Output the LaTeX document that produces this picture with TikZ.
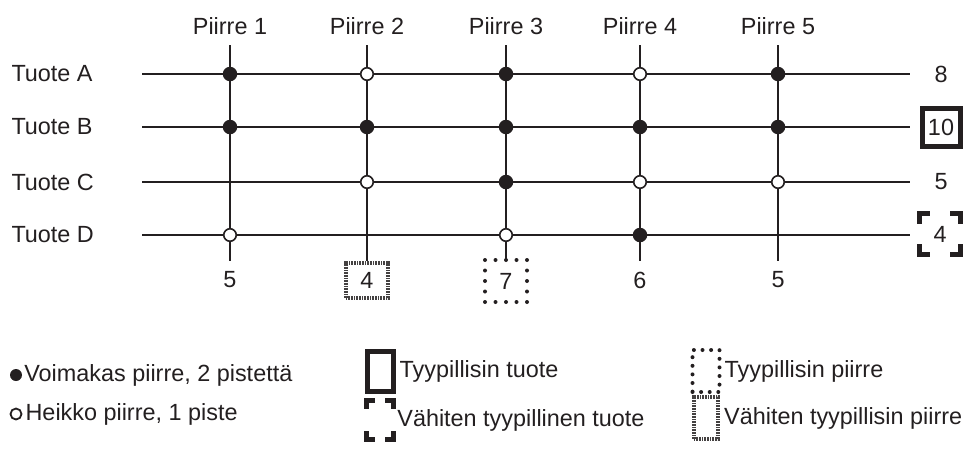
\documentclass[tikz,border=0pt]{standalone}
\usepackage{fontspec}
\setmainfont{Liberation Sans}
\usepackage{xcolor}
\usetikzlibrary{positioning}
\definecolor{ink}{HTML}{231F20}
\tikzset{
	every node/.style={font=\fontsize{23.4}{27}\selectfont, text=ink},
	gridline/.style={draw=ink, line width=2pt},
	strong/.style={circle, fill=ink, inner sep=0pt, minimum size=14.5pt}, % 2 points
	weak/.style={circle, draw=ink, fill=white, line width=1.6pt, inner sep=0pt, minimum size=12.5pt}, % 1 point
	mostbox/.style={draw=ink, line width=5pt, inner sep=0pt, minimum width=38pt, minimum height=38pt},
	leastbox/.style={inner sep=0pt, minimum width=40pt, minimum height=40pt},
	dotbox/.style={draw=ink, line width=4pt, dash pattern=on 0pt off 10.5pt, line cap=round, inner sep=0pt, minimum width=42pt, minimum height=42pt},
	hatchbox/.style={draw=ink!85, line width=4pt, dash pattern=on 0.8pt off 0.8pt, inner sep=0pt, minimum width=42pt, minimum height=35pt},
	legtext/.style={anchor=west, inner sep=1pt},
}
% corner brackets round a node
\newcommand{\brackets}[2]{%
	\draw[ink, line width=5pt] ([yshift=-#2]#1.north west) -- (#1.north west) -- ([xshift=#2]#1.north west);
	\draw[ink, line width=5pt] ([xshift=-#2]#1.north east) -- (#1.north east) -- ([yshift=-#2]#1.north east);
	\draw[ink, line width=5pt] ([yshift=#2]#1.south west) -- (#1.south west) -- ([xshift=#2]#1.south west);
	\draw[ink, line width=5pt] ([xshift=-#2]#1.south east) -- (#1.south east) -- ([yshift=#2]#1.south east);
}

\begin{document}
\begin{tikzpicture}[x=1pt, y=-1pt]
	\useasboundingbox (0,0) rectangle (970,448);

	% products (rows)
	\foreach \name/\y in {A/74, B/127, C/182, D/235} {
		\node[anchor=west] (tuote\name) at (8,\y) {Tuote \name};
		\coordinate (left\name) at (142,\y);
		\coordinate (right\name) at (910,\y);
		\draw[gridline] (left\name) -- (right\name);
	}

	% features (columns)
	\foreach \i/\x in {1/230, 2/367, 3/506, 4/640, 5/778} {
		\node (piirre\i) at (\x,26) {Piirre \i};
		\coordinate (top\i) at (\x,45);
		\coordinate (bot\i) at (\x,261);
		\draw[gridline] (top\i) -- (bot\i);
	}

	% points
	\node[strong] (a1) at (top1 |- leftA) {};
	\node[weak]   (a2) at (top2 |- leftA) {};
	\node[strong] (a3) at (top3 |- leftA) {};
	\node[weak]   (a4) at (top4 |- leftA) {};
	\node[strong] (a5) at (top5 |- leftA) {};

	\node[strong] (b1) at (top1 |- leftB) {};
	\node[strong] (b2) at (top2 |- leftB) {};
	\node[strong] (b3) at (top3 |- leftB) {};
	\node[strong] (b4) at (top4 |- leftB) {};
	\node[strong] (b5) at (top5 |- leftB) {};

	\node[weak]   (c2) at (top2 |- leftC) {};
	\node[strong] (c3) at (top3 |- leftC) {};
	\node[weak]   (c4) at (top4 |- leftC) {};
	\node[weak]   (c5) at (top5 |- leftC) {};

	\node[weak]   (d1) at (top1 |- leftD) {};
	\node[weak]   (d3) at (top3 |- leftD) {};
	\node[strong] (d4) at (top4 |- leftD) {};

	% row sums
	\node (sumA) at (941,74) {8};
	\node[mostbox] (sumB) at (941,127) {10};
	\node (sumC) at (941,182) {5};
	\node[leastbox] (sumD) at (940,234) {4};
	\brackets{sumD}{10pt}

	% column sums
	\node (sum1) at (230,280) {5};
	\node[hatchbox] (sum2) at (367,280) {4};
	\node[dotbox] (sum3) at (506,281) {7};
	\node (sum4) at (640,280) {6};
	\node (sum5) at (778,280) {5};

	% legend
	\node[strong, minimum size=12pt] (kstrong) at (16,375) {};
	\node[legtext, right=1pt of kstrong] (tstrong) {Voimakas piirre, 2 pistettä};
	\node[weak, minimum size=11pt, line width=1.8pt] (kweak) at (16,414) {};
	\node[legtext, right=2pt of kweak] (tweak) {Heikko piirre, 1 piste};

	\node[mostbox, minimum width=26pt, minimum height=40pt] (kmost) at (380,371) {};
	\node[legtext, right=3pt of kmost] (tmost) {Tyypillisin tuote};
	\node[leastbox, minimum width=26pt, minimum height=38pt] (kleast) at (380,420) {};
	\brackets{kleast}{8pt}
	\node[legtext, right=3pt of kleast] (tleast) {Vähiten tyypillinen tuote};

	\node[dotbox, minimum width=27pt, minimum height=42pt, dash pattern=on 0pt off 8.6pt] (kdot) at (706,371) {};
	\node[legtext, right=2pt of kdot] (tdot) {Tyypillisin piirre};
	\node[hatchbox, minimum width=24pt, minimum height=42pt] (khatch) at (706,418) {};
	\node[legtext, right=3pt of khatch] (thatch) {Vähiten tyypillisin piirre};
\end{tikzpicture}
\end{document}
